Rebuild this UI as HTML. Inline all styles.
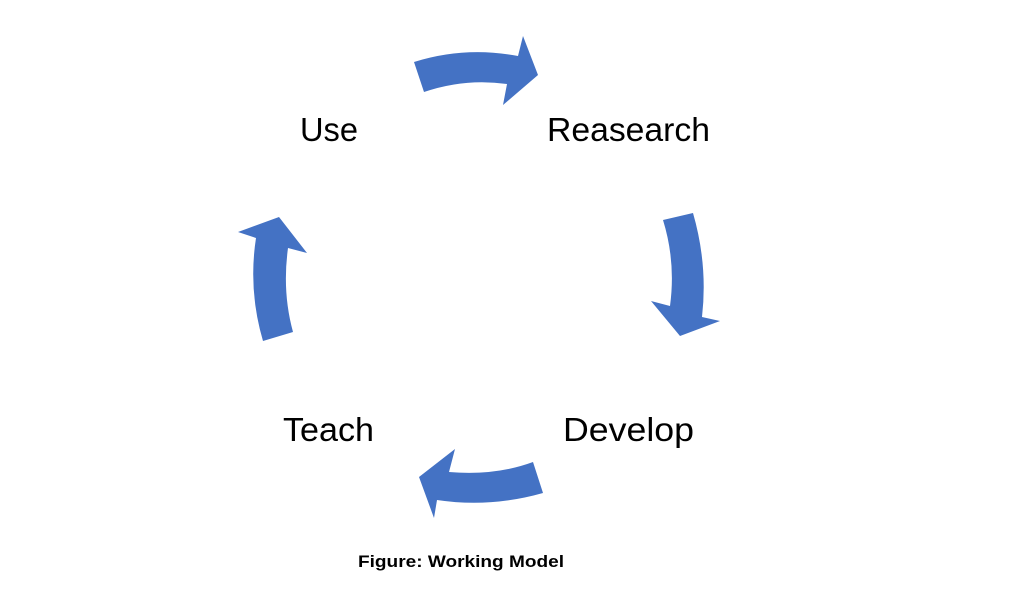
<!DOCTYPE html>
<html><head><style>html,body{margin:0;padding:0;background:#fff;}svg{display:block}</style></head>
<body>
<svg width="1017" height="605" viewBox="0 0 1017 605" xmlns="http://www.w3.org/2000/svg">
<g fill="#4472C4">
<path d="M414,62 Q465,46 518,56 L523,36 L538,75 L503,105 L507,84 Q465,78 424,92 Z"/>
<path d="M663,220 L693,213 Q708,265 702,317 L720,321 L680,336 L651,301 L670,306 Q676,262 663,220 Z"/>
<path d="M543,493 Q490,508 437,500 L434,518 L419,477 L455,449 L449,472 Q495,476 533,462 Z"/>
<path d="M263,341 Q248,290 256,238 L238,232 L279,217 L307,253 L288,248 Q282,292 293,332 Z"/>
</g>
<g font-family="Liberation Sans, sans-serif" font-size="33" fill="#000">
<text x="300" y="141" textLength="58" lengthAdjust="spacingAndGlyphs">Use</text>
<text x="547" y="141" textLength="163" lengthAdjust="spacingAndGlyphs">Reasearch</text>
<text x="563" y="441" textLength="131" lengthAdjust="spacingAndGlyphs">Develop</text>
<text x="283" y="441" textLength="91" lengthAdjust="spacingAndGlyphs">Teach</text>
</g>
<text x="358" y="567" font-family="Liberation Sans, sans-serif" font-weight="bold" font-size="17" textLength="206" lengthAdjust="spacingAndGlyphs">Figure: Working Model</text>
</svg>
</body></html>
